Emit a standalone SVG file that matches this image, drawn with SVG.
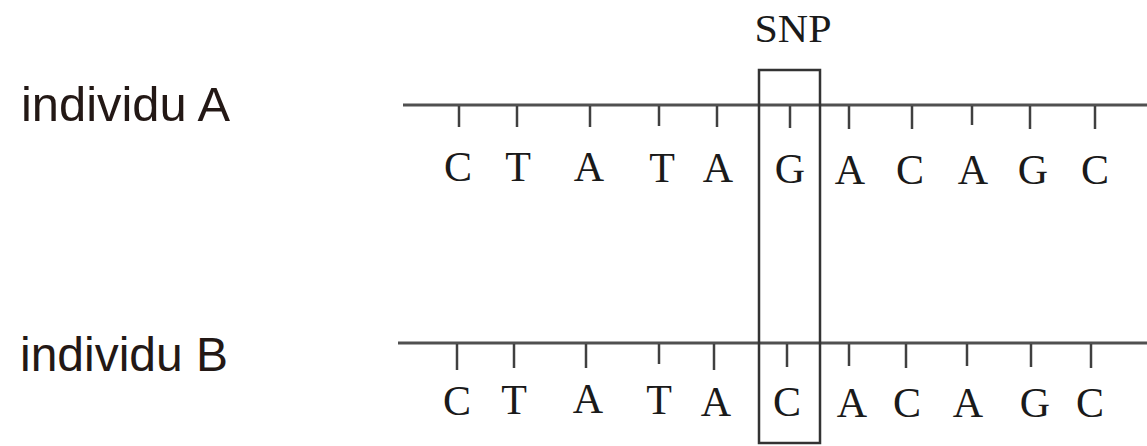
<svg xmlns="http://www.w3.org/2000/svg" width="1147" height="446" viewBox="0 0 1147 446">
  <style>
    .label { font-family: "Liberation Sans", Arial, sans-serif; font-size: 48px; fill: #231815; }
    .base { font-family: "Liberation Serif", "Times New Roman", serif; font-size: 42px; fill: #1a1a1a; text-anchor: middle; }
    .snp { font-family: "Liberation Serif", "Times New Roman", serif; font-size: 40px; fill: #1a1a1a; text-anchor: middle; }
    .strand { stroke: #505050; stroke-width: 3; fill: none; }
    .tick { stroke: #404040; stroke-width: 2.5; }
    .box { stroke: #333; stroke-width: 2.5; fill: none; }
  </style>
  <rect width="1147" height="446" fill="#fff"/>

  <!-- individual labels -->
  <g id="label-a"><text class="label" x="21" y="121" textLength="209" lengthAdjust="spacingAndGlyphs">individu A</text></g>
  <g id="label-b"><text class="label" x="20" y="371" textLength="208" lengthAdjust="spacingAndGlyphs">individu B</text></g>

  <!-- strand of individual A -->
  <g id="strand-a">
    <line class="strand" x1="403" y1="105" x2="1147" y2="105"/>
    <g class="tick">
      <line x1="459" y1="106" x2="459" y2="127"/>
      <line x1="517" y1="106" x2="517" y2="127"/>
      <line x1="590" y1="106" x2="590" y2="127"/>
      <line x1="659" y1="106" x2="659" y2="126"/>
      <line x1="717" y1="106" x2="717" y2="127"/>
      <line x1="790" y1="106" x2="790" y2="128"/>
      <line x1="849" y1="106" x2="849" y2="129"/>
      <line x1="912" y1="106" x2="912" y2="129"/>
      <line x1="972" y1="106" x2="972" y2="125"/>
      <line x1="1030" y1="106" x2="1030" y2="129"/>
      <line x1="1095" y1="106" x2="1095" y2="129"/>
    </g>
    <text class="base" x="458" y="181">C</text>
    <text class="base" x="518" y="181">T</text>
    <text class="base" x="589" y="181">A</text>
    <text class="base" x="662" y="182">T</text>
    <text class="base" x="718" y="182">A</text>
    <text class="base" x="790" y="183">G</text>
    <text class="base" x="850" y="184">A</text>
    <text class="base" x="910" y="184">C</text>
    <text class="base" x="973" y="184">A</text>
    <text class="base" x="1033" y="184">G</text>
    <text class="base" x="1095" y="184">C</text>
  </g>

  <!-- strand of individual B -->
  <g id="strand-b">
    <line class="strand" x1="398" y1="343" x2="1147" y2="343"/>
    <g class="tick">
      <line x1="457" y1="344" x2="457" y2="370"/>
      <line x1="514" y1="344" x2="514" y2="368"/>
      <line x1="586" y1="344" x2="586" y2="368"/>
      <line x1="659" y1="344" x2="659" y2="364"/>
      <line x1="714" y1="344" x2="714" y2="370"/>
      <line x1="787" y1="344" x2="787" y2="367"/>
      <line x1="849" y1="344" x2="849" y2="366"/>
      <line x1="906" y1="344" x2="906" y2="368"/>
      <line x1="967" y1="344" x2="967" y2="366"/>
      <line x1="1031" y1="344" x2="1031" y2="367"/>
      <line x1="1091" y1="344" x2="1091" y2="368"/>
    </g>
    <text class="base" x="457" y="415">C</text>
    <text class="base" x="514" y="414">T</text>
    <text class="base" x="588" y="413">A</text>
    <text class="base" x="659" y="414">T</text>
    <text class="base" x="716" y="416">A</text>
    <text class="base" x="787" y="416">C</text>
    <text class="base" x="852" y="417">A</text>
    <text class="base" x="907" y="417">C</text>
    <text class="base" x="968" y="417">A</text>
    <text class="base" x="1035" y="417">G</text>
    <text class="base" x="1090" y="417">C</text>
  </g>

  <!-- SNP marker -->
  <g id="snp">
    <rect class="box" x="759" y="70" width="61" height="373"/>
    <text class="snp" x="793" y="42" textLength="77" lengthAdjust="spacingAndGlyphs">SNP</text>
  </g>
</svg>
